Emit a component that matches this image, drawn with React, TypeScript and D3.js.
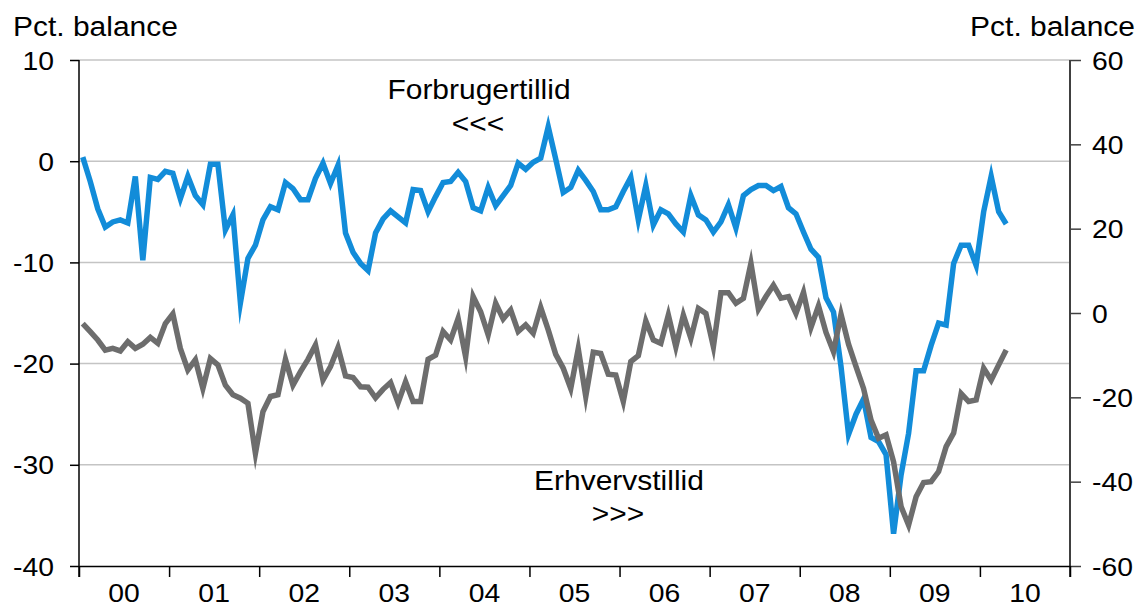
import * as d3 from 'd3'
import { useEffect, useRef } from 'react'

// month-by-month from Jan 2000, consumer confidence (left axis)
const forbruger = [
  0.4, -2.0, -4.7, -6.5, -6.0, -5.8, -6.1, -1.5, -9.8, -1.6, -1.8, -1.0,
  -1.2, -3.7, -1.5, -3.4, -4.3, -0.3, -0.3, -6.8, -5.3, -14.0, -9.6, -8.3,
  -5.8, -4.5, -4.8, -2.1, -2.7, -3.8, -3.8, -1.7, -0.2, -2.2, -0.4, -7.1,
  -9.0, -10.1, -10.8, -7.1, -5.7, -4.9, -5.5, -6.1, -2.8, -2.9, -5.0, -3.5,
  -2.1, -2.0, -1.1, -2.0, -4.6, -4.9, -2.6, -4.4, -3.4, -2.4, -0.2, -0.8,
  -0.1, 0.3, 3.4, 0.2, -3.1, -2.6, -0.9, -1.9, -3.0, -4.8, -4.8, -4.5,
  -3.0, -1.6, -5.8, -2.4, -6.3, -4.8, -5.2, -6.2, -7.0, -3.4, -5.3, -5.8,
  -7.0, -6.0, -4.3, -6.6, -3.4, -2.8, -2.4, -2.4, -2.9, -2.5, -4.6, -5.2,
  -7.0, -8.7, -9.5, -13.5, -14.9, -20.3, -27.0, -25.0, -23.5, -27.3, -27.7, -29.0,
  -36.8, -31.0, -26.9, -20.7, -20.7, -18.2, -16.0, -16.2, -10.1, -8.3, -8.3, -10.3,
  -5.0, -1.5, -5.0, -6.2
]

// business confidence (right axis)
const erhverv = [
  -2.5, -4.4, -6.4, -8.8, -8.4, -9.0, -6.8, -8.4, -7.4, -5.8, -7.2, -2.5,
  -0.2, -8.4, -13.5, -11.1, -17.9, -10.8, -12.3, -17.1, -19.4, -20.2, -21.4, -33.3,
  -23.4, -19.8, -19.4, -11.0, -17.1, -13.9, -11.0, -7.6, -15.9, -12.7, -8.2, -14.9,
  -15.3, -17.5, -17.6, -20.1, -18.1, -16.5, -21.3, -16.3, -21.0, -21.0, -11.0, -10.0,
  -4.4, -6.4, -1.3, -10.4, 3.9, 0.3, -5.2, 2.3, -1.4, 0.7, -4.4, -2.8,
  -4.8, 1.3, -4.0, -9.8, -13.1, -17.9, -8.5, -19.8, -9.3, -9.6, -14.5, -14.7,
  -21.0, -11.5, -10.1, -1.9, -6.4, -7.2, -0.5, -8.0, -0.5, -6.0, 1.1, -0.1,
  -8.0, 4.8, 4.8, 2.3, 3.5, 11.8, 0.9, 3.9, 6.6, 3.5, 3.9, -0.1,
  4.9, -3.4, 1.7, -4.6, -9.2, -0.3, -7.4, -12.7, -17.9, -25.4, -29.7, -28.9,
  -35.3, -45.9, -50.3, -43.6, -40.2, -40.0, -37.6, -31.7, -28.5, -19.1, -21.0, -20.6,
  -13.1, -15.9, -12.3, -8.8
]

const years = ['00', '01', '02', '03', '04', '05', '06', '07', '08', '09', '10']
const leftTicks = [-40, -30, -20, -10, 0, 10]
const rightTicks = [-60, -40, -20, 0, 20, 40, 60]

const FONT = '"Liberation Sans", Arial, Helvetica, sans-serif'
const SX = 1.09

export default function App() {
  const ref = useRef<SVGSVGElement>(null)

  useEffect(() => {
    const W = 1141, H = 608
    const left = 79, right = 1070, top = 60, bottom = 566

    const svg = d3.select(ref.current)
    svg.selectAll('*').remove()
    svg.attr('width', W).attr('height', H)

    const x = d3.scaleLinear().domain([0, years.length * 12]).range([left, right])
    const yL = d3.scaleLinear().domain([-40, 10]).range([bottom, top])
    const yR = d3.scaleLinear().domain([-60, 60]).range([bottom, top])

    // text helper, fonts in the original look a bit wide
    const label = (g, tx, ty, str, anchor, size) =>
      g.append('text')
        .attr('transform', `translate(${tx},${ty}) scale(${SX},1)`)
        .attr('text-anchor', anchor)
        .attr('font-family', FONT)
        .attr('font-size', size)
        .attr('fill', '#000')
        .text(str)

    // grid
    svg.append('g')
      .selectAll('line')
      .data(leftTicks.filter(t => t > -40))
      .join('line')
        .attr('x1', left).attr('x2', right)
        .attr('y1', d => yL(d)).attr('y2', d => yL(d))
        .attr('stroke', '#c4c4c4')
        .attr('stroke-width', 1.5)

    // series
    const lineL = d3.line<number>().x((d, i) => x(i + 0.5)).y(d => yL(d))
    const lineR = d3.line<number>().x((d, i) => x(i + 0.5)).y(d => yR(d))

    svg.append('path')
      .attr('d', lineL(forbruger))
      .attr('fill', 'none')
      .attr('stroke', '#128cd9')
      .attr('stroke-width', 5.5)
      .attr('stroke-linejoin', 'miter')
      .attr('stroke-miterlimit', 8)

    svg.append('path')
      .attr('d', lineR(erhverv))
      .attr('fill', 'none')
      .attr('stroke', '#6d6d6d')
      .attr('stroke-width', 5.5)
      .attr('stroke-linejoin', 'miter')
      .attr('stroke-miterlimit', 8)

    // left axis
    const gL = svg.append('g').attr('transform', `translate(${left},0)`)
      .call(d3.axisLeft(yL).tickValues(leftTicks).tickSize(9).tickFormat(() => ''))
    gL.select('.domain').remove()
    gL.selectAll('line').attr('stroke', '#000').attr('stroke-width', 1.5)
    svg.append('line')
      .attr('x1', left).attr('x2', left).attr('y1', top).attr('y2', bottom + 11)
      .attr('stroke', '#000').attr('stroke-width', 1.5)
    leftTicks.forEach(t => label(svg, 54, yL(t) + 9.5, String(t), 'end', 26))

    // right axis
    const gR = svg.append('g').attr('transform', `translate(${right},0)`)
      .call(d3.axisRight(yR).tickValues(rightTicks).tickSize(11).tickFormat(() => ''))
    gR.select('.domain').remove()
    gR.selectAll('line').attr('stroke', '#404040').attr('stroke-width', 1.5)
    svg.append('line')
      .attr('x1', right).attr('x2', right).attr('y1', top).attr('y2', bottom + 11)
      .attr('stroke', '#404040').attr('stroke-width', 2)
    rightTicks.forEach(t => label(svg, 1092, yR(t) + 9.5, String(t), 'start', 26))

    // bottom axis
    const gB = svg.append('g').attr('transform', `translate(0,${bottom})`)
      .call(d3.axisBottom(x).tickValues(d3.range(0, years.length * 12 + 1, 12)).tickSize(11).tickFormat(() => '').tickSizeOuter(0))
    gB.select('.domain').attr('stroke', '#000').attr('stroke-width', 1.5)
    gB.selectAll('line').attr('stroke', '#000').attr('stroke-width', 1.5)
    years.forEach((yr, i) => label(svg, x(i * 12 + 6), 602, yr, 'middle', 26))

    // titles and annotations
    label(svg, 13, 36, 'Pct. balance', 'start', 27.5)
    label(svg, 1135, 36, 'Pct. balance', 'end', 27.5)
    label(svg, 479, 99, 'Forbrugertillid', 'middle', 27.5)
    label(svg, 478, 133, '<<<', 'middle', 27.5)
    label(svg, 619, 490, 'Erhvervstillid', 'middle', 27.5)
    label(svg, 618, 523, '>>>', 'middle', 27.5)
  }, [])

  return (
    <div style={{ position: 'absolute', left: 0, top: 0, width: 1141, height: 608, background: '#fff' }}>
      <svg ref={ref} style={{ display: 'block' }}></svg>
    </div>
  )
}
